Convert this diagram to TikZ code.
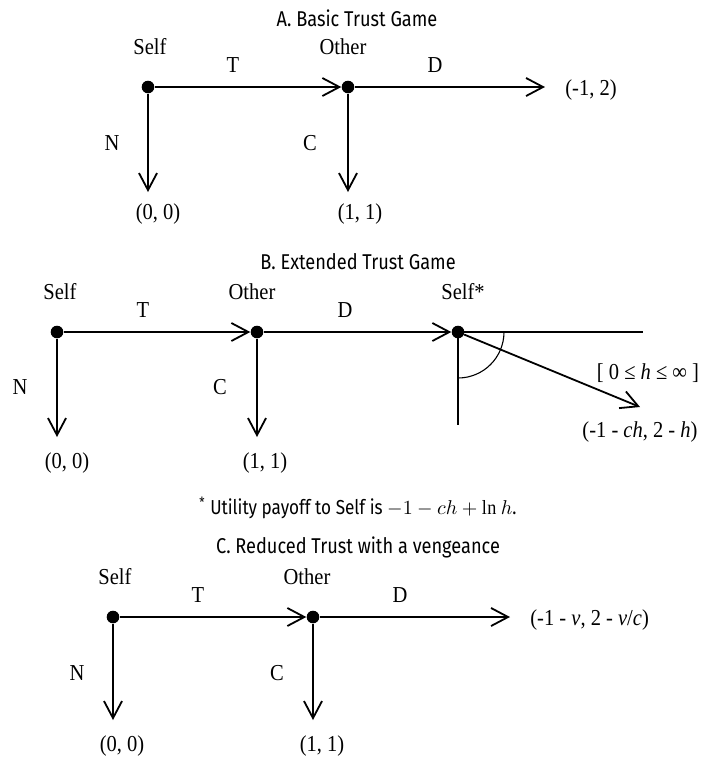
\documentclass[tikz,border=0pt]{standalone}
\usepackage{fontspec}
\setmainfont[FakeStretch=0.9]{Liberation Serif}
\newfontfamily\titlefont[FakeStretch=0.85]{Fira Sans}
\usetikzlibrary{positioning}
\usetikzlibrary{arrows.meta}
\tikzset{%
	% Specifications for style of nodes:
	dot/.style = {circle, fill=black, inner sep=0pt, minimum size=6.3pt},
	lbl/.style = {inner sep=1pt, font=\fontsize{11.4pt}{13pt}\selectfont},
	title/.style = {inner sep=1pt, font=\fontsize{10.7pt}{13pt}\selectfont\titlefont},
	% Specifications for style of lines:
	move/.style = {line width=0.9pt, -{Straight Barb[length=8.5pt, width=9pt, line width=0.9pt]}},
	guide/.style = {line width=0.55pt}
}

\begin{document}
\begin{tikzpicture}[x=0.5pt, y=-0.5pt]
	\useasboundingbox (0,0) rectangle (703,757);
	% A. basic game
	\node (titleA) [title] at (357,18) {A. Basic Trust Game};
	\node (aSelf) [dot] at (148,87) {};
	\node (aOther) [dot] at (348,87) {};
	\coordinate (aDEnd) at (545,87);
	\coordinate (aNEnd) at (148,192);
	\coordinate (aCEnd) at (348,192);
	\node (aSelfLbl) [lbl] at (150,47) {Self};
	\node (aOtherLbl) [lbl] at (343,47) {Other};
	\node (aT) [lbl] at (233,65) {T};
	\node (aD) [lbl] at (435,65) {D};
	\node (aN) [lbl] at (112,143) {N};
	\node (aC) [lbl] at (310,143) {C};
	\node (aPayN) [lbl] at (158,214) {(0, 0)};
	\node (aPayC) [lbl] at (360,214) {(1, 1)};
	\node (aPayD) [lbl, right=9pt of aDEnd, yshift=-1.5pt] {(-1, 2)};
	\draw[move] (aSelf) -- (aOther);
	\draw[move] (aOther) -- (aDEnd);
	\draw[move] (aSelf) -- (aNEnd);
	\draw[move] (aOther) -- (aCEnd);
	% B. extended game
	\node (titleB) [title] at (358,262) {B. Extended Trust Game};
	\node (bSelf) [dot] at (57,332) {};
	\node (bOther) [dot] at (257,332) {};
	\node (bSelfStar) [dot] at (458,332) {};
	\coordinate (bNEnd) at (57,437);
	\coordinate (bCEnd) at (257,437);
	\coordinate (bHorEnd) at (643,332);
	\coordinate (bVerEnd) at (458,425);
	\coordinate (bHEnd) at (640,407);
	\node (bSelfLbl) [lbl] at (60,292) {Self};
	\node (bOtherLbl) [lbl] at (252,292) {Other};
	\node (bSelfStarLbl) [lbl] at (463,292) {Self*};
	\node (bT) [lbl] at (143,310) {T};
	\node (bD) [lbl] at (345,310) {D};
	\node (bN) [lbl] at (20,387) {N};
	\node (bC) [lbl] at (220,387) {C};
	\node (bPayN) [lbl] at (67,463) {(0, 0)};
	\node (bPayC) [lbl] at (265,463) {(1, 1)};
	\node (bRange) [lbl] at (648,373) {[ 0 ≤ \textit{h} ≤ ∞ ]};
	\node (bPayH) [lbl] at (640,432) {(-1 - \textit{ch}, 2 - \textit{h})};
	\draw[guide] (bSelfStar.center) -- (bHorEnd);
	\draw[guide] (bSelfStar.center) -- (bVerEnd);
	\draw[guide] ([xshift=23pt]bSelfStar.center) arc[start angle=0, end angle=-90, radius=23pt];
	\draw[move] (bSelf) -- (bOther);
	\draw[move] (bOther) -- (bSelfStar);
	\draw[move] (bSelf) -- (bNEnd);
	\draw[move] (bOther) -- (bCEnd);
	\draw[move] (bSelfStar) -- (bHEnd);
	\node (note) [title, font=\fontsize{10.1pt}{13pt}\selectfont\titlefont] at (358,508) {\textsuperscript{*} Utility payoff to Self is $-1-ch+\ln h$.};
	% C. reduced game
	\node (titleC) [title] at (358,547) {C. Reduced Trust with a vengeance};
	\node (cSelf) [dot] at (113,617) {};
	\node (cOther) [dot] at (313,617) {};
	\coordinate (cDEnd) at (510,617);
	\coordinate (cNEnd) at (113,720);
	\coordinate (cCEnd) at (313,720);
	\node (cSelfLbl) [lbl] at (115,577) {Self};
	\node (cOtherLbl) [lbl] at (307,577) {Other};
	\node (cT) [lbl] at (198,595) {T};
	\node (cD) [lbl] at (400,595) {D};
	\node (cN) [lbl] at (77,673) {N};
	\node (cC) [lbl] at (277,673) {C};
	\node (cPayN) [lbl] at (122,746) {(0, 0)};
	\node (cPayC) [lbl] at (322,746) {(1, 1)};
	\node (cPayD) [lbl, right=9pt of cDEnd, yshift=-1.5pt] {(-1 - \textit{v}, 2 - \textit{v}/\textit{c})};
	\draw[move] (cSelf) -- (cOther);
	\draw[move] (cOther) -- (cDEnd);
	\draw[move] (cSelf) -- (cNEnd);
	\draw[move] (cOther) -- (cCEnd);
\end{tikzpicture}
\end{document}
